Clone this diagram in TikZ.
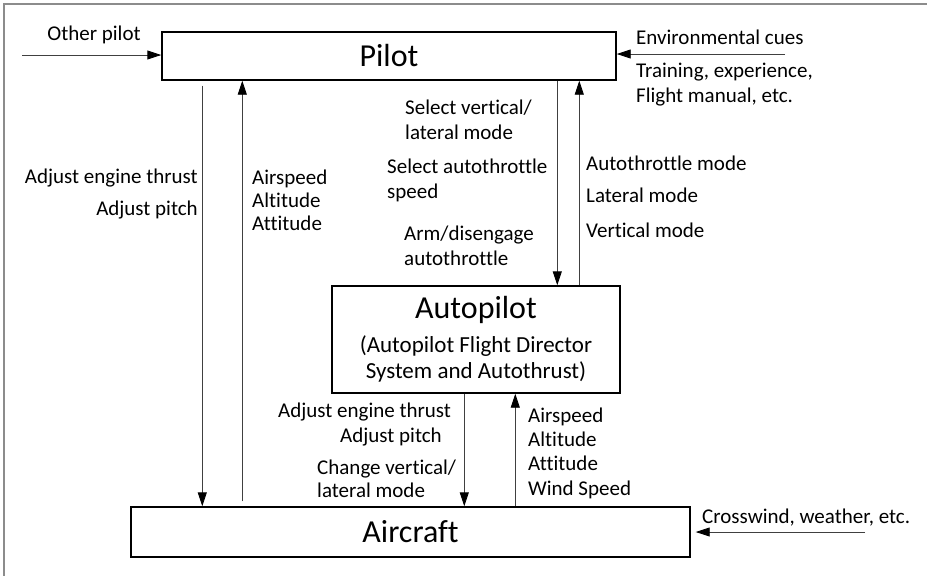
\documentclass[tikz,border=0pt]{standalone}
\usepackage{fontspec}
\setmainfont{Carlito}[Ligatures=NoCommon]
\usetikzlibrary{arrows.meta,positioning}

\begin{document}
\begin{tikzpicture}[x=1pt,y=-1pt,
    box/.style={draw=black,line width=1.4pt,inner sep=0pt},
    arr/.style={draw=black!75,line width=0.9pt,-{Triangle[length=14pt,width=9pt,color=black]}}]
      \useasboundingbox (0,0) rectangle (927,576);
      \draw[black!45,line width=1.2pt] (4,576) -- (4,4) -- (927,4);
      \begin{scope}[every node/.style={box,font=\fontsize{32}{36}\selectfont}]
        \node (pilot) [minimum width=454pt,minimum height=48pt] at (389,56) {Pilot};
        \node (autopilot) [minimum width=288pt,minimum height=107pt,align=center] at (476,339.5)
          {Autopilot\\[-2pt]{\fontsize{23}{26}\selectfont (Autopilot Flight Director}\\[-10pt]{\fontsize{23}{26}\selectfont System and Autothrust)}};
        \node (aircraft) [minimum width=559pt,minimum height=50pt] at (410.5,532) {Aircraft};
      \end{scope}
      \begin{scope}[every node/.style={inner sep=0pt,font=\fontsize{21}{24}\selectfont}]
        \node (other) at (94,35) {Other pilot};
        \node (envc) [anchor=west] at (636,37) {Environmental cues};
        \node (train) [anchor=west,align=left] at (636,84.5) {Training, experience,\\[1pt]Flight manual, etc.};
        \node (adj1) [anchor=east,align=right] at (198,194) {Adjust engine thrust\\[8pt]Adjust pitch};
        \node (sens1) [anchor=west,align=left] at (252,200) {Airspeed\\[-1pt]Altitude\\[-1pt]Attitude};
        \node (selvl) [anchor=west,align=left] at (405,119.5) {Select vertical/\\[1pt]lateral mode};
        \node (selat) [anchor=west,align=left] at (387,180.5) {Select autothrottle\\[1pt]speed};
        \node (arm) [anchor=west,align=left] at (404,245.5) {Arm/disengage\\[1pt]autothrottle};
        \node (modes) [anchor=west,align=left] at (586,196.5) {Autothrottle mode\\[8pt]Lateral mode\\[11pt]Vertical mode};
        \node (adj2) [anchor=west] at (278,412) {Adjust engine thrust};
        \node (pitch2) [anchor=west] at (340,437) {Adjust pitch};
        \node (chg) [anchor=west,align=left] at (317,478.5) {Change vertical/\\[-1pt]lateral mode};
        \node (sens2) [anchor=west,align=left] at (528,453.5) {Airspeed\\Altitude\\Attitude\\[1pt]Wind Speed};
        \node (cross) [anchor=west] at (702,518) {Crosswind, weather, etc.};
      \end{scope}
      \coordinate (op) at (22,55);
      \coordinate (env) at (785,54);
      \coordinate (cw) at (865,532);
      \path ([xshift=41pt,yshift=-5pt]pilot.south west) coordinate (d1);
      \path ([xshift=112pt,yshift=5pt]aircraft.north west) coordinate (u1);
      \path ([xshift=396pt]pilot.south west) coordinate (d2);
      \path ([xshift=248pt]autopilot.north west) coordinate (u2);
      \path ([xshift=133pt]autopilot.south west) coordinate (d3);
      \path ([xshift=184pt]autopilot.south west) coordinate (u3);
      \begin{scope}[every edge/.style={arr}]
        \path (op) edge (op -| pilot.west);
        \path (env) edge (env -| pilot.east);
        \path (cw) edge[shorten >=5pt] (cw -| aircraft.east);
        \path (d1) edge (d1 |- aircraft.north);
        \path (u1) edge (u1 |- pilot.south);
        \path (d2) edge (d2 |- autopilot.north);
        \path (u2) edge (u2 |- pilot.south);
        \path (d3) edge (d3 |- aircraft.north);
        \path (aircraft.north -| u3) edge (u3);
      \end{scope}
    \end{tikzpicture}
\end{document}
